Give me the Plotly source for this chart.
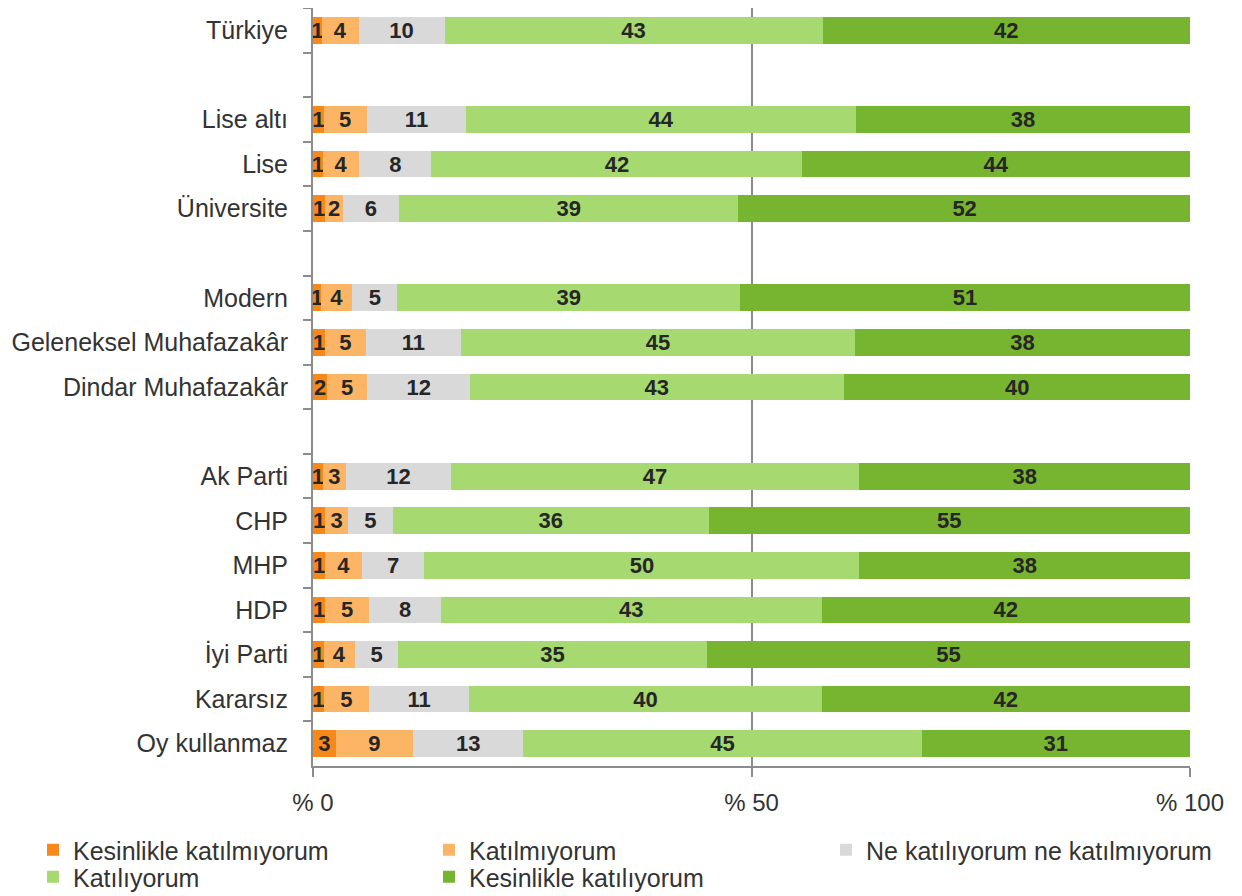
import plotly.graph_objects as go

categories = ["Türkiye", "Lise altı", "Lise", "Üniversite", "Modern",
              "Geleneksel Muhafazakâr", "Dindar Muhafazakâr", "Ak Parti", "CHP",
              "MHP", "HDP", "İyi Parti", "Kararsız", "Oy kullanmaz"]

# axis order, with empty spacer rows between groups
row_order = ["Türkiye", " ", "Lise altı", "Lise", "Üniversite", "  ", "Modern",
             "Geleneksel Muhafazakâr", "Dindar Muhafazakâr", "   ", "Ak Parti", "CHP",
             "MHP", "HDP", "İyi Parti", "Kararsız", "Oy kullanmaz"]

series_names = ["Kesinlikle katılmıyorum", "Katılmıyorum",
                "Ne katılıyorum ne katılmıyorum", "Katılıyorum", "Kesinlikle katılıyorum"]

kesinlikle_katilmiyorum = [1.0, 1.2, 1.1, 1.4, 0.9, 1.4, 1.6, 1.1, 1.4, 1.4, 1.4, 1.2, 1.2, 2.6]
katilmiyorum = [4.2, 4.9, 4.2, 2.0, 3.6, 4.6, 4.6, 2.7, 2.6, 4.2, 5.0, 3.6, 5.2, 8.8]
ne_ne = [9.8, 11.4, 8.2, 6.4, 5.1, 10.9, 11.7, 11.9, 5.1, 7.1, 8.2, 4.9, 11.4, 12.6]
katiliyorum = [43.1, 44.4, 42.3, 38.7, 39.1, 44.9, 42.6, 46.6, 36.0, 49.6, 43.4, 35.2, 40.2, 45.4]
kesinlikle_katiliyorum = [41.9, 38.1, 44.2, 51.6, 51.3, 38.2, 39.6, 37.7, 54.9, 37.7, 42.0, 55.1, 42.0, 30.6]

series_values = [kesinlikle_katilmiyorum, katilmiyorum, ne_ne, katiliyorum, kesinlikle_katiliyorum]
colors = ["#F7891A", "#FBB565", "#D9D9D9", "#A6D96F", "#77B530"]
# legend blocks: row 1 left (2 items), row 1 right (1 item), row 2 (2 items)
legend_ids = ["legend", "legend", "legend3", "legend2", "legend2"]

x_tickvals = [0, 50, 100]
x_ticktext = ["% 0", "% 50", "% 100"]

FONT = "Liberation Sans, Arial, sans-serif"
TXT = "#333333"
AXC = "#8C8C8C"

# the page body adds an 8px offset, so the figure is 8px smaller than the window
W, H = 1234, 888
ML, MR, MT, MB = 305, 52, 0, 130

fig = go.Figure()
for name, vals, col, lg in zip(series_names, series_values, colors, legend_ids):
    fig.add_trace(go.Bar(
        y=categories, x=vals, name=name, orientation="h",
        marker=dict(color=col, line=dict(width=0)),
        text=[f"{v:.0f}" for v in vals],
        textposition="inside", insidetextanchor="middle", textangle=0,
        textfont=dict(family=FONT, size=22, color="#262626", weight="bold"),
        constraintext="none",
        legend=lg,
    ))

legend_common = dict(
    orientation="h", xref="container", yref="container",
    xanchor="left", yanchor="top",
    entrywidth=351, entrywidthmode="pixels",
    font=dict(family=FONT, size=25, color=TXT),
    itemwidth=30, traceorder="normal", bgcolor="rgba(0,0,0,0)",
)

fig.update_layout(
    barmode="stack",
    bargap=0.4,
    width=W, height=H,
    margin=dict(l=ML, r=MR, t=MT, b=MB),
    paper_bgcolor="white", plot_bgcolor="white",
    font=dict(family=FONT, size=24, color=TXT),
    uniformtext=dict(minsize=22, mode="show"),
    showlegend=True,
    legend=dict(x=25 / W, y=1 - 819 / H, **legend_common),
    legend3=dict(x=818 / W, y=1 - 819 / H, **legend_common),
    legend2=dict(x=25 / W, y=1 - 846 / H, **legend_common),
)

fig.update_xaxes(
    range=[0, 100], tickvals=x_tickvals, ticktext=x_ticktext,
    showgrid=True, gridcolor=AXC, gridwidth=2,
    showline=True, linecolor=AXC, linewidth=2,
    ticks="outside", ticklen=9, tickcolor=AXC, tickwidth=2,
    zeroline=False, ticklabelstandoff=5,
    tickfont=dict(family=FONT, size=24, color=TXT),
)
fig.update_yaxes(
    type="category", categoryorder="array", categoryarray=row_order,
    range=[len(row_order) - 0.5, -0.5],
    showline=True, linecolor=AXC, linewidth=2,
    ticks="outside", tickson="boundaries", ticklen=8, tickcolor=AXC, tickwidth=2,
    showgrid=False, ticklabelstandoff=18,
    tickfont=dict(family=FONT, size=25, color=TXT),
)

fig.write_html("out.html")
